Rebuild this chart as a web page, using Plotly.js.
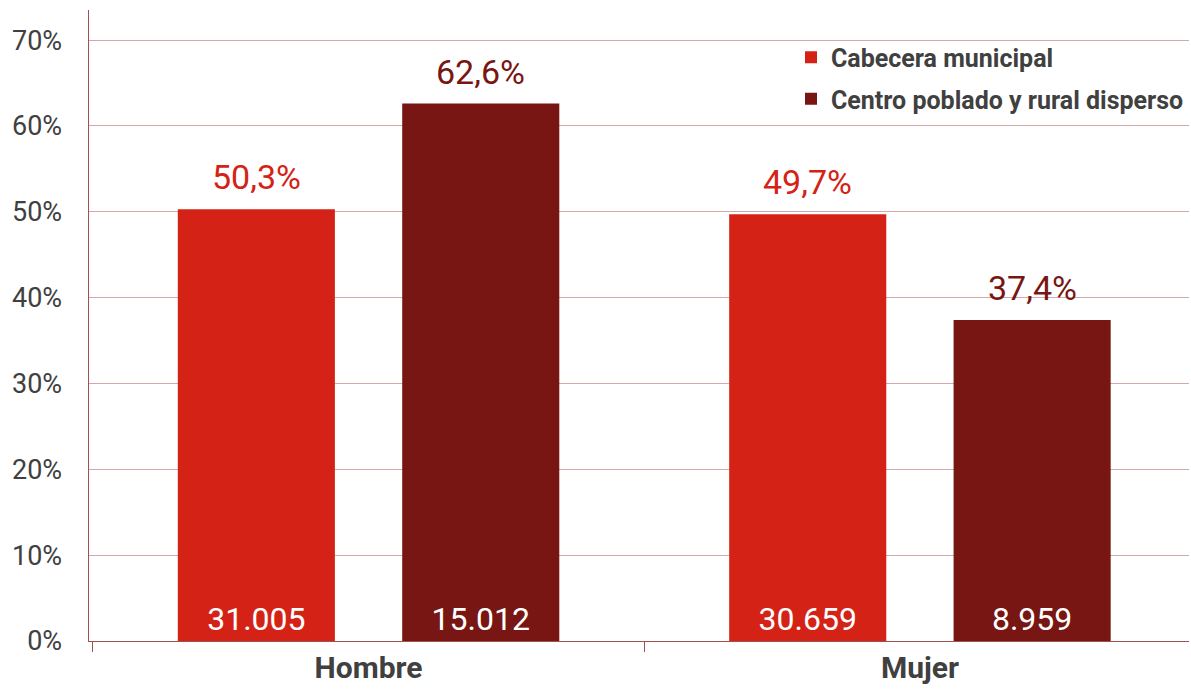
<!DOCTYPE html>
<html>
<head>
<meta charset="utf-8">
<script src="https://cdn.plot.ly/plotly-3.0.1.min.js"></script>
<style>html,body{margin:0;padding:0;background:#fff;}#chart{width:1191px;height:698px;}</style>
</head>
<body>
<div id="chart"></div>
<script>
const categories = ["Hombre", "Mujer"];
const seriesNames = ["Cabecera municipal", "Centro poblado y rural disperso"];
const cabeceraPct = [50.3, 49.7];
const centroPct = [62.6, 37.4];
const cabeceraCount = ["31.005", "30.659"];
const centroCount = ["15.012", "8.959"];
const pctLabelsCab = ["50,3%", "49,7%"];
const pctLabelsCen = ["62,6%", "37,4%"];
const yTickVals = [0, 10, 20, 30, 40, 50, 60, 70];
const yTickText = ["0%", "10%", "20%", "30%", "40%", "50%", "60%", "70%"];

const colors = ["#d42316", "#771612"];
const FONT = 'Roboto, "DejaVu Sans", sans-serif';
const ST = 'condensed';
const bargap = 0.186;
const bargroupgap = 0.3;

const traces = [
  {type: 'bar', name: seriesNames[0], legendgroup: 'a', x: categories, y: cabeceraPct, text: cabeceraCount,
   marker: {color: colors[0]}, textposition: 'inside', insidetextanchor: 'start',
   textfont: {color: '#ffffff', size: 32, family: FONT, stretch: ST}, constraintext: 'none', hoverinfo: 'skip'},
  {type: 'bar', name: seriesNames[1], legendgroup: 'b', x: categories, y: centroPct, text: centroCount,
   marker: {color: colors[1]}, textposition: 'inside', insidetextanchor: 'start',
   textfont: {color: '#ffffff', size: 32, family: FONT, stretch: ST}, constraintext: 'none', hoverinfo: 'skip'}
];

const slot = (1 - bargap) / 2;
const annotations = [];
[[cabeceraPct, pctLabelsCab, colors[0], -1], [centroPct, pctLabelsCen, colors[1], 1]].forEach(([vals, labs, col, side]) => {
  vals.forEach((v, i) => {
    annotations.push({x: i + side * slot / 2, y: v, xref: 'x', yref: 'y', text: labs[i], showarrow: false,
      yanchor: 'bottom', yshift: 10, font: {family: FONT, size: 34, color: col, stretch: ST}});
  });
});

const layout = {
  width: 1191, height: 698,
  margin: {l: 89, r: 2, t: 10, b: 57},
  paper_bgcolor: '#ffffff', plot_bgcolor: '#ffffff',
  barmode: 'group', bargap: bargap, bargroupgap: bargroupgap,
  font: {family: FONT, color: '#404040', stretch: ST},
  showlegend: true,
  legend: {x: 1, xanchor: 'right', y: 0.961, yanchor: 'top', bgcolor: 'rgba(255,255,255,0)',
    font: {family: FONT, size: 25, color: '#404040', weight: 'bold', stretch: ST},
    traceorder: 'grouped', tracegroupgap: 6, itemwidth: 30},
  xaxis: {type: 'category', range: [-0.507, 1.488], showline: true, linecolor: '#a0504f', linewidth: 1,
    ticks: 'outside', tickson: 'boundaries', ticklen: 10, tickcolor: '#a0504f', showgrid: false,
    tickfont: {family: FONT, size: 30, color: '#404040', weight: 'bold', stretch: ST}, fixedrange: true},
  yaxis: {range: [0, 73.5], tickmode: 'array', tickvals: yTickVals, ticktext: yTickText, showline: true, linecolor: '#a0504f', linewidth: 1.5,
    gridcolor: '#d4a9a9', gridwidth: 1, zeroline: false, ticks: '', ticklabelstandoff: 20,
    tickfont: {family: FONT, size: 27, color: '#404040', stretch: ST}, fixedrange: true},
  annotations: annotations
};

Plotly.newPlot('chart', traces, layout, {displayModeBar: false, staticPlot: true});
</script>
</body>
</html>
